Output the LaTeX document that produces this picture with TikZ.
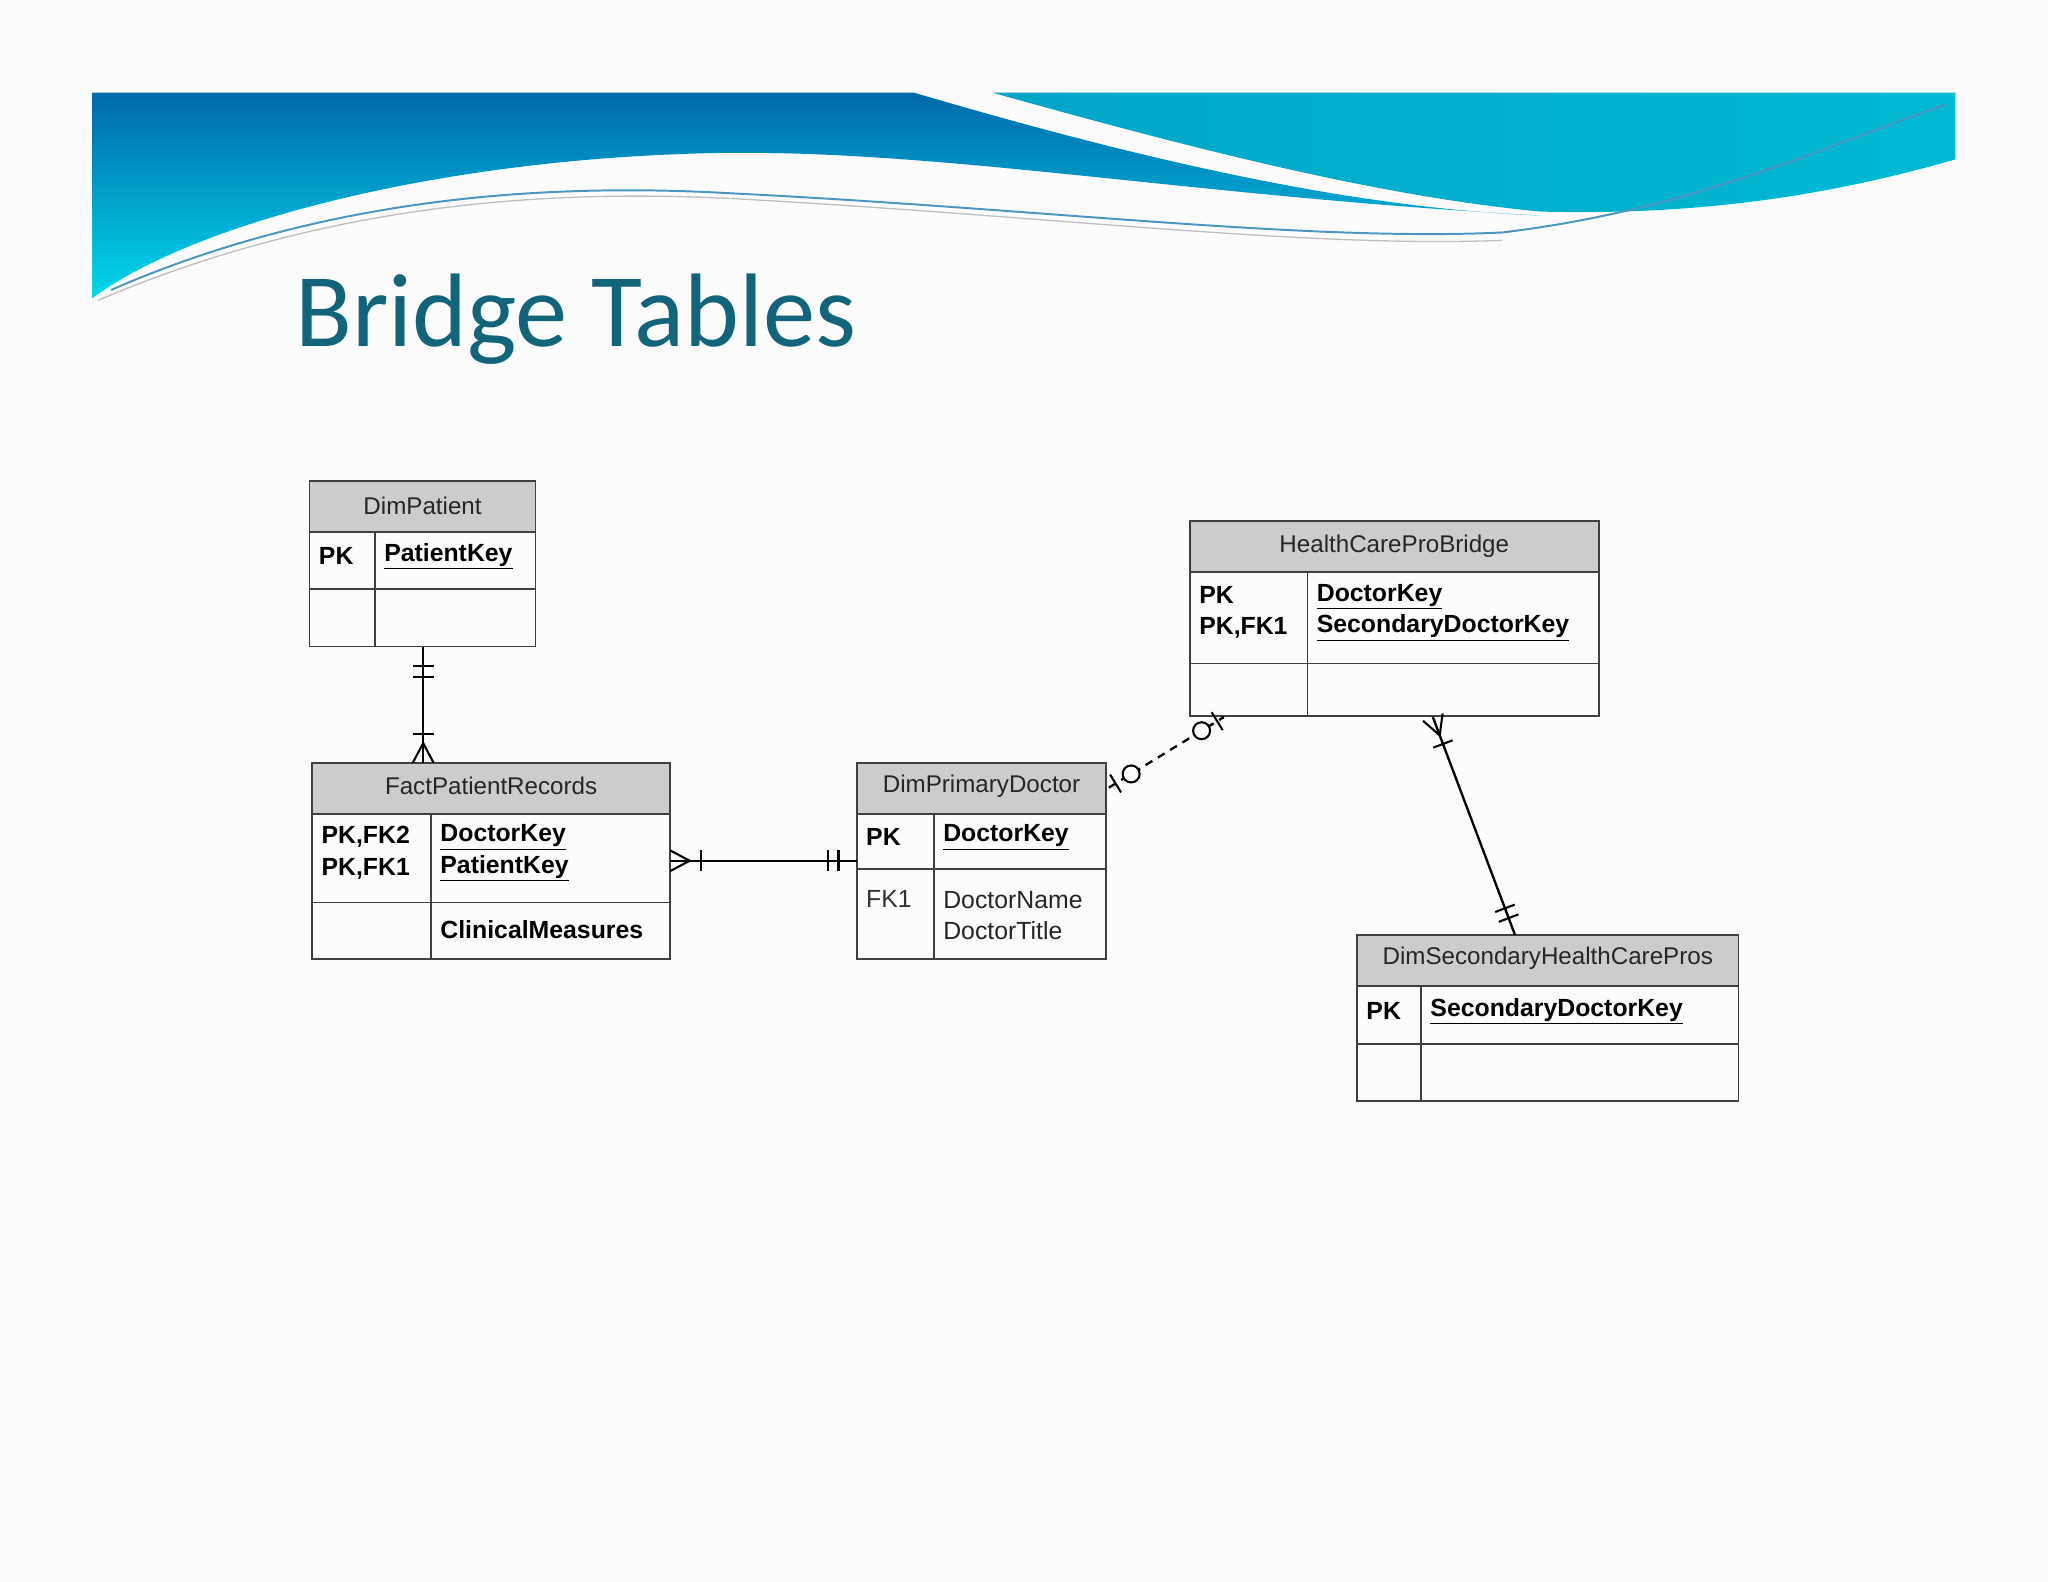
\documentclass[tikz,border=0pt]{standalone}
\usepackage{fontspec}
\setmainfont{Liberation Sans}
\newfontfamily\titlefont{Carlito}
\usetikzlibrary{calc}
\definecolor{hdr}{RGB}{204,204,204}
\definecolor{ttl}{RGB}{18,100,122}
\definecolor{bA}{RGB}{0,215,235}
\definecolor{bB}{RGB}{0,105,170}
\definecolor{bC}{RGB}{0,165,200}
\definecolor{bD}{RGB}{0,185,210}
\tikzset{
  tbl/.style={draw=black!75,line width=1.4pt},
  hd/.style={draw=black!75,line width=1.4pt,fill=hdr},
  txt/.style={anchor=west,inner sep=0pt,font=\fontsize{19}{24}\selectfont,align=left},
  htxt/.style={inner sep=0pt,font=\fontsize{18.5}{20}\selectfont,text=black!85},
  rel/.style={line width=1.8pt},
  mk/.style={line width=1.6pt},
}
\newcommand{\tickat}[3]{\draw[mk] ($(#1)!#3!(#2)!8pt!90:(#2)$) -- ($(#1)!#3!(#2)!8pt!-90:(#2)$);}
\newcommand{\crowat}[2]{\draw[mk] ($(#1)!8pt!90:(#2)$) -- ($(#1)!15pt!(#2)$) -- ($(#1)!8pt!-90:(#2)$);}
\newcommand{\ringat}[3]{\draw[mk,fill=white] ($(#1)!#3!(#2)$) circle (6.5pt);}
\begin{document}
\begin{tikzpicture}[x=1pt,y=-1pt]
\useasboundingbox (0,0) rectangle (1568,1211);
\fill[black!1] (0,0) rectangle (1568,1211);
% banner
\shade[top color=bB,bottom color=bA] (71,71) -- (700,71) .. controls (900,130) and (1050,160) .. (1180,165) .. controls (900,150) and (700,110) .. (520,118) .. controls (330,125) and (150,170) .. (71,228) -- cycle;
\shade[left color=bC,right color=bD] (760,71) -- (1497,71) -- (1497,122) .. controls (1400,150) and (1300,165) .. (1180,162) .. controls (1050,150) and (900,110) .. (760,71) -- cycle;
\draw[bB!70,line width=1.5pt] (85,222) .. controls (250,150) and (420,140) .. (560,148) .. controls (800,160) and (1000,185) .. (1150,178) .. controls (1300,160) and (1400,110) .. (1490,80);
\draw[black!25,line width=1pt] (75,230) .. controls (250,155) and (420,145) .. (560,152) .. controls (800,165) and (1000,190) .. (1150,184);
\node[anchor=base west,inner sep=0pt,text=ttl,font=\titlefont\fontsize{80}{80}\selectfont] (title) at (226,265) {Bridge Tables};
% DimPatient
\draw[hd] (237,368) rectangle (410,407);
\draw[tbl] (237,407) rectangle (410,495); \draw[tbl] (237,451) -- (410,451); \draw[tbl] (287,407) -- (287,495);
\node[htxt] (dp) at (323.5,387) {DimPatient};
\node[txt] at (244,426) {\textbf{PK}};
\node[txt] at (294,426) {\textbf{\underline{PatientKey}}};
% FactPatientRecords
\draw[hd] (239,584) rectangle (513,623);
\draw[tbl] (239,623) rectangle (513,734); \draw[tbl] (239,691) -- (513,691); \draw[tbl] (330,623) -- (330,734);
\node[htxt] (fp) at (376,602) {FactPatientRecords};
\node[txt] at (246,653) {\textbf{PK,FK2}\\\textbf{PK,FK1}};
\node[txt] at (337,653) {\textbf{\underline{DoctorKey}}\\\textbf{\underline{PatientKey}}};
\node[txt] at (337,712) {\textbf{ClinicalMeasures}};
% DimPrimaryDoctor
\draw[hd] (656,584) rectangle (847,623);
\draw[tbl] (656,623) rectangle (847,734); \draw[tbl] (656,665) -- (847,665); \draw[tbl] (715,623) -- (715,734);
\node[htxt] (pd) at (751.5,602) {DimPrimaryDoctor};
\node[txt] at (663,641) {\textbf{PK}};
\node[txt] at (722,641) {\textbf{\underline{DoctorKey}}};
\node[txt,text=black!80] at (663,688) {FK1};
\node[txt,text=black!85] at (722,701) {DoctorName\\DoctorTitle};
% HealthCareProBridge
\draw[hd] (911,399) rectangle (1224,438);
\draw[tbl] (911,438) rectangle (1224,548); \draw[tbl] (911,508) -- (1224,508); \draw[tbl] (1001,438) -- (1001,548);
\node[htxt] (hb) at (1067.5,418) {HealthCareProBridge};
\node[txt] at (918,469) {\textbf{PK}\\\textbf{PK,FK1}};
\node[txt] at (1008,469) {\textbf{\underline{DoctorKey}}\\\textbf{\underline{SecondaryDoctorKey}}};
% DimSecondaryHealthCarePros
\draw[hd] (1039,716) rectangle (1331,755);
\draw[tbl] (1039,755) rectangle (1331,843); \draw[tbl] (1039,799) -- (1331,799); \draw[tbl] (1088,755) -- (1088,843);
\node[htxt] (sh) at (1185,734) {DimSecondaryHealthCarePros};
\node[txt] at (1046,774) {\textbf{PK}};
\node[txt] at (1095,774) {\textbf{\underline{SecondaryDoctorKey}}};
% connectors
\coordinate (p1) at (324,495); \coordinate (f1) at (324,584);
\draw[rel] (p1) -- (f1);
\tickat{p1}{f1}{15pt} \tickat{p1}{f1}{23pt}
\crowat{f1}{p1} \tickat{f1}{p1}{22pt}
\coordinate (f2) at (513,659); \coordinate (d2) at (656,659);
\draw[rel] (f2) -- (d2);
\crowat{f2}{d2} \tickat{f2}{d2}{24pt}
\tickat{d2}{f2}{14pt} \tickat{d2}{f2}{22pt}
\coordinate (d3) at (849,603); \coordinate (b3) at (937,549);
\draw[rel,dashed,dash pattern=on 6pt off 5pt] (d3) -- (b3);
\tickat{d3}{b3}{6pt} \ringat{d3}{b3}{20pt}
\tickat{b3}{d3}{6pt} \ringat{b3}{d3}{20pt}
\coordinate (b4) at (1097,549); \coordinate (s4) at (1160,716);
\draw[rel] (b4) -- (s4);
\crowat{b4}{s4} \tickat{b4}{s4}{22pt}
\tickat{s4}{b4}{14pt} \tickat{s4}{b4}{22pt}
\end{tikzpicture}
\end{document}
